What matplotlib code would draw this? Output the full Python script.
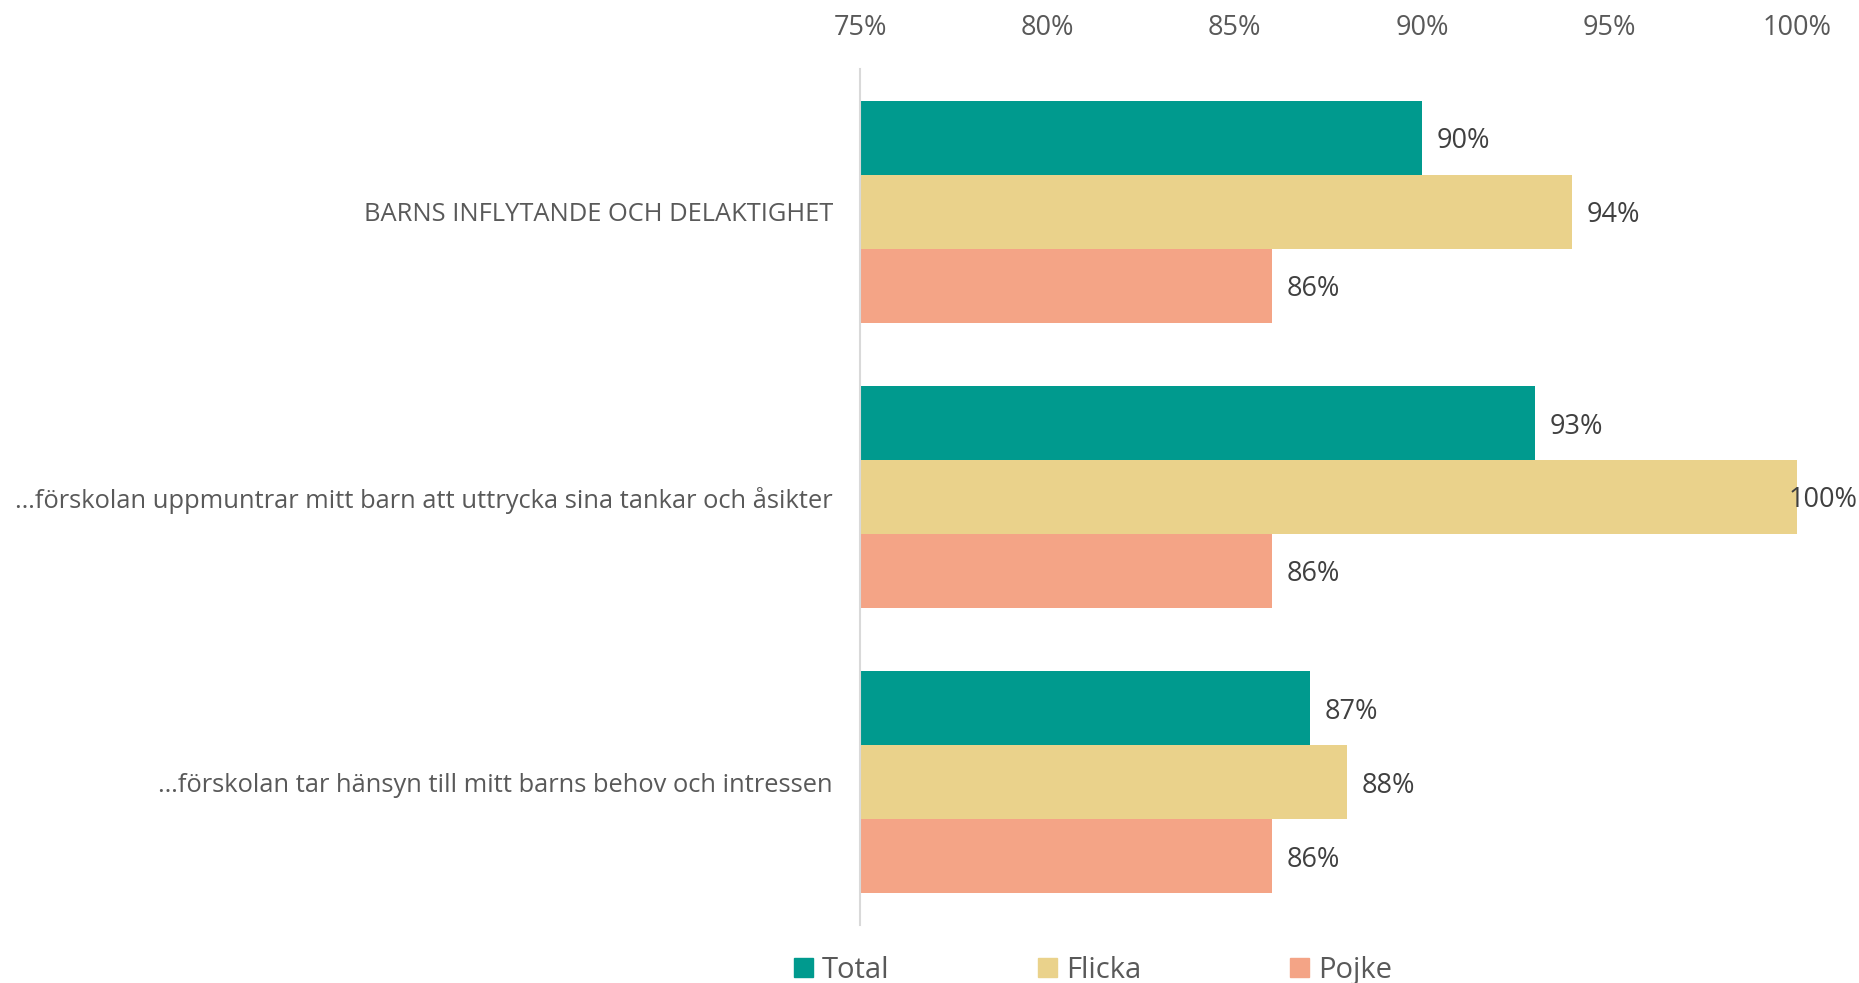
import numpy as np
import matplotlib.pyplot as plt
from matplotlib.patches import Patch

plt.rcParams['font.family'] = ['Open Sans', 'DejaVu Sans']

# data
categories = [
    "BARNS INFLYTANDE OCH DELAKTIGHET",
    "…förskolan uppmuntrar mitt barn att uttrycka sina tankar och åsikter",
    "…förskolan tar hänsyn till mitt barns behov och intressen",
]
series_names = ["Total", "Flicka", "Pojke"]
total = [90, 93, 87]
flicka = [94, 100, 88]
pojke = [86, 86, 86]
xticks = [75, 80, 85, 90, 95, 100]

colors = ["#009A8E", "#EAD28B", "#F4A486"]
label_col = "#595959"
value_col = "#404040"

fig = plt.figure(figsize=(18.59, 9.83), dpi=100)
ax = fig.add_axes([860 / 1859, 1 - 925 / 983, (1797 - 860) / 1859, (925 - 69) / 983])

y = np.arange(len(categories))
h = 0.259
xmin, xmax = 75, 100
for i, (vals, col) in enumerate(zip([total, flicka, pojke], colors)):
    pos = y + (i - 1) * h
    ax.barh(pos, [v - xmin for v in vals], left=xmin, height=h, color=col)
    for p, v in zip(pos, vals):
        dx = -6 if v >= xmax else 10.5
        ax.annotate(f"{v}%", (v, p), xytext=(dx, -2.5), textcoords="offset points",
                    ha="left", va="center", fontsize=19.5, color=value_col)

ax.set_xlim(xmin, xmax)
ax.set_ylim(len(categories) - 0.5, -0.5)
ax.xaxis.tick_top()
ax.set_xticks(xticks)
ax.set_xticklabels([f"{t}%" for t in xticks], fontsize=19.5, color=label_col)
ax.tick_params(axis="x", length=0, pad=19.5)
ax.set_yticks(y)
ax.set_yticklabels(categories, fontsize=18.4, color=label_col)
ax.tick_params(axis="y", length=0, pad=19.5)
for s in ["top", "right", "bottom"]:
    ax.spines[s].set_visible(False)
ax.spines["left"].set_color("#D9D9D9")
ax.spines["left"].set_linewidth(1.5)

handles = [Patch(color=c, label=n) for c, n in zip(colors, series_names)]
fig.legend(handles=handles, loc="center", bbox_to_anchor=(0.588, 0.013), ncol=3,
           frameon=False, fontsize=21, handlelength=0.65, handleheight=0.65,
           handletextpad=0.3, columnspacing=5.1, labelcolor=label_col)

fig.savefig("out.png", dpi=100)
